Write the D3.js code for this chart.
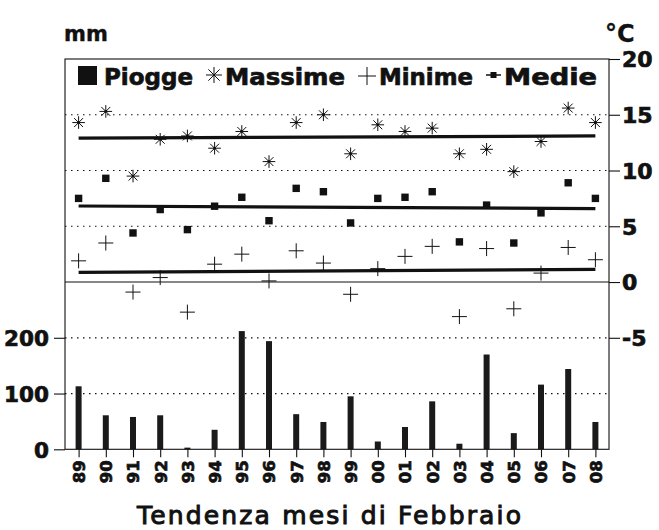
<!DOCTYPE html>
<html>
<head>
<meta charset="utf-8">
<script src="https://cdn.jsdelivr.net/npm/d3@7"></script>
<style>
  html, body { margin: 0; padding: 0; background: #fff; }
  svg { display: block; }
  text { font-family: "DejaVu Sans", sans-serif; fill: #111; }
</style>
</head>
<body>
<svg id="chart" width="659" height="530"></svg>
<script>
// ---- data ----
const years = ["89","90","91","92","93","94","95","96","97","98","99","00","01","02","03","04","05","06","07","08"];
const piogge  = [113, 61, 58, 61, 3, 35, 212, 194, 63, 49, 95, 14, 40, 86, 10, 170, 29, 116, 144, 49];
const massime = [14.3, 15.3, 9.5, 12.8, 13.1, 12.0, 13.5, 10.8, 14.3, 15.0, 11.5, 14.1, 13.5, 13.8, 11.5, 11.9, 9.9, 12.6, 15.6, 14.3];
const minime  = [1.9, 3.5, -0.9, 0.4, -2.7, 1.6, 2.5, 0.1, 2.8, 1.7, -1.1, 1.2, 2.3, 3.2, -3.1, 3.0, -2.4, 0.8, 3.1, 2.0];
const medie   = [7.5, 9.3, 4.4, 6.5, 4.7, 6.8, 7.6, 5.5, 8.4, 8.1, 5.3, 7.5, 7.6, 8.1, 3.6, 6.9, 3.5, 6.2, 8.9, 7.5];
const trendMassime = [12.9, 13.1];
const trendMedie   = [6.82, 6.58];
const trendMinime  = [0.87, 1.13];
const mmTicks = [0, 100, 200];
const tempTicks = [20, 15, 10, 5, 0, -5];
const gridTemps = [15, 10, 5, -5, -10];
const legendLabels = ["Piogge", "Massime", "Minime", "Medie"];
const yLabelLeft = "mm", yLabelRight = "°C";
const title = "Tendenza mesi di Febbraio";

// ---- layout ----
const L = 65, R = 609, T = 59, B = 449.3;
const svg = d3.select("#chart");
const x = d3.scalePoint().domain(years).range([L, R]).padding(0.5);
const yT = d3.scaleLinear().domain([-15, 20]).range([B, T]);
const yM = d3.scaleLinear().domain([0, 700]).range([B, T]);
const ink = "#111";
const heavy = sel => sel.style("font-weight", "bold").style("stroke", ink).style("stroke-width", "0.7px");

// grid (dotted)
svg.append("g").selectAll("line").data(gridTemps).join("line")
  .attr("x1", L).attr("x2", R)
  .attr("y1", d => yT(d)).attr("y2", d => yT(d))
  .attr("stroke", ink).attr("stroke-width", 1.2)
  .attr("stroke-dasharray", "1.5,4.5");

// bars
svg.append("g").selectAll("rect").data(piogge).join("rect")
  .attr("x", (d, i) => x(years[i]) - 3)
  .attr("width", 6)
  .attr("y", d => yM(d))
  .attr("height", d => yM(0) - yM(d))
  .attr("fill", "#1a1a1a");

// frame and 0°C divider
svg.append("rect").attr("x", L).attr("y", T).attr("width", R - L).attr("height", B - T)
  .attr("fill", "none").attr("stroke", ink).attr("stroke-width", 1.1);
svg.append("line").attr("x1", L).attr("x2", R).attr("y1", yT(0)).attr("y2", yT(0))
  .attr("stroke", ink).attr("stroke-width", 1.1);

// axes
const axL = d3.axisLeft(yM).tickValues(mmTicks).tickSize(11).tickPadding(5).tickFormat(d => String(d));
const gL = svg.append("g").attr("transform", `translate(${L},0)`).call(axL);
const axR = d3.axisRight(yT).tickValues(tempTicks).tickSize(11).tickPadding(2).tickFormat(d => String(d));
const gR = svg.append("g").attr("transform", `translate(${R},0)`).call(axR);
const axB = d3.axisBottom(x).tickSize(8).tickFormat(d => d);
const gB = svg.append("g").attr("transform", `translate(0,${B})`).call(axB);
[gL, gR, gB].forEach(g => {
  g.select(".domain").remove();
  g.selectAll(".tick line").attr("stroke", ink).attr("stroke-width", 1.1);
  g.selectAll("text").attr("fill", ink).style("font-family", "'DejaVu Sans', sans-serif").call(heavy);
});
gL.selectAll("text").style("font-size", "21.5px").attr("dy", "0.36em");
gR.selectAll("text").style("font-size", "22px").attr("dy", "0.36em");
gB.selectAll("text")
  .style("font-size", "16.5px")
  .attr("text-anchor", "end")
  .attr("transform", "rotate(-90)")
  .attr("x", -11).attr("y", 0).attr("dy", "0.36em");

// trend lines
const trendData = [trendMassime, trendMedie, trendMinime];
svg.append("g").selectAll("line").data(trendData).join("line")
  .attr("x1", x(years[0])).attr("x2", x(years[years.length - 1]))
  .attr("y1", d => yT(d[0])).attr("y2", d => yT(d[1]))
  .attr("stroke", ink).attr("stroke-width", 3.2);

// symbols
const astPath = r => {
  const a = r * Math.SQRT1_2;
  return `M0,${-r}V${r}M${-r},0H${r}M${-a},${-a}L${a},${a}M${-a},${a}L${a},${-a}`;
};
const plusPath = r => `M0,${-r}V${r}M${-r},0H${r}`;

svg.append("g").selectAll("g").data(massime).join("g")
  .attr("transform", (d, i) => `translate(${x(years[i])},${yT(d)})`)
  .each(function () {
    const g = d3.select(this);
    g.append("path").attr("d", astPath(6.3)).attr("stroke", ink).attr("stroke-width", 1).attr("fill", "none");
    g.append("circle").attr("r", 1.4).attr("fill", ink);
  });

svg.append("g").selectAll("path").data(minime).join("path")
  .attr("transform", (d, i) => `translate(${x(years[i])},${yT(d)})`)
  .attr("d", plusPath(7.5)).attr("stroke", ink).attr("stroke-width", 1).attr("fill", "none");

svg.append("g").selectAll("rect").data(medie).join("rect")
  .attr("x", (d, i) => x(years[i]) - 3.7)
  .attr("y", d => yT(d) - 3.7)
  .attr("width", 7.4).attr("height", 7.4).attr("fill", ink);

// legend
const lg = svg.append("g");
const legY = 85;
lg.append("rect").attr("x", 78).attr("y", 66).attr("width", 19).attr("height", 19).attr("fill", ink);
lg.append("path").attr("transform", "translate(214,75)").attr("d", astPath(8)).attr("stroke", ink).attr("stroke-width", 1).attr("fill", "none");
lg.append("path").attr("transform", "translate(367,76)").attr("d", plusPath(9)).attr("stroke", ink).attr("stroke-width", 1).attr("fill", "none");
lg.append("line").attr("x1", 486).attr("x2", 501).attr("y1", 75).attr("y2", 75).attr("stroke", ink).attr("stroke-width", 1.5);
lg.append("rect").attr("x", 490.5).attr("y", 72).attr("width", 6).attr("height", 6).attr("fill", ink);
const legX = [104, 225, 379, 504];
const legW = [89, 120, 94, 93];
lg.selectAll("text.leg").data(legendLabels).join("text")
  .attr("class", "leg")
  .attr("x", (d, i) => legX[i]).attr("y", legY)
  .attr("textLength", (d, i) => legW[i]).attr("lengthAdjust", "spacingAndGlyphs")
  .style("font-size", "23px").call(heavy)
  .text(d => d);

// axis titles
svg.append("text").attr("x", 64).attr("y", 41)
  .style("font-size", "21px").call(heavy).style("stroke-width", "0.4px").text(yLabelLeft);
svg.append("text").attr("x", 605).attr("y", 42).style("font-size", "24px").call(heavy).style("stroke-width", "0.3px").text(yLabelRight);

// chart title
svg.append("text").attr("x", 137).attr("y", 524)
  .attr("textLength", 384).attr("lengthAdjust", "spacing")
  .style("font-size", "25px").style("stroke", ink).style("stroke-width", "1px")
  .text(title);
</script>
</body>
</html>
